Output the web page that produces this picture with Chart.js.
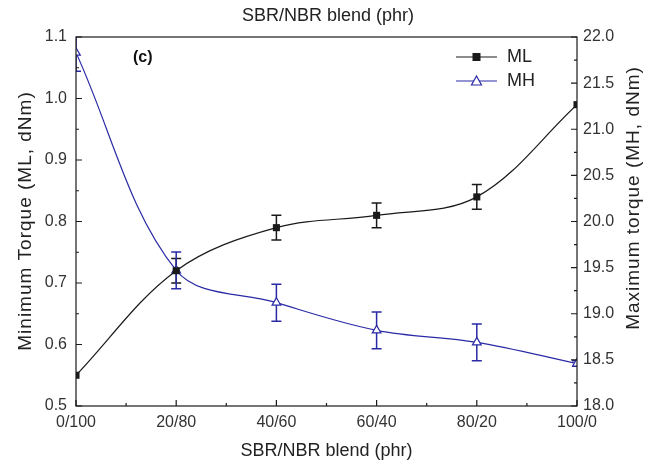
<!DOCTYPE html>
<html>
<head>
<meta charset="utf-8">
<script src="https://cdn.jsdelivr.net/npm/chart.js@4"></script>
<style>
  html, body { margin: 0; padding: 0; background: #fff; }
  #wrap { width: 656px; height: 466px; }
</style>
</head>
<body>
<div id="wrap"><canvas id="c"></canvas></div>
<script>
const categories = ['0/100', '20/80', '40/60', '60/40', '80/20', '100/0'];
const mlValues = [0.55, 0.72, 0.79, 0.81, 0.84, 0.99];
const mlErrors = [0, 0.02, 0.02, 0.02, 0.02, 0];
const mhValues = [21.83, 19.47, 19.12, 18.82, 18.69, 18.46];
const mhErrors = [0.2, 0.2, 0.2, 0.2, 0.2, 0.03];
const leftTicks = [0.5, 0.6, 0.7, 0.8, 0.9, 1.0, 1.1];
const rightTicks = [18.0, 18.5, 19.0, 19.5, 20.0, 20.5, 21.0, 21.5, 22.0];

const blue = '#2a2aa6';
const dark = '#1a1a1a';
const fontFam = '"Liberation Sans", Arial, sans-serif';

Chart.defaults.font.family = fontFam;

// inward major/minor ticks, frame, y titles, legend
const frameTicks = {
  id: 'frameTicks',
  afterDraw(chart) {
    const { ctx, chartArea: a, scales } = chart;
    ctx.save();
    ctx.strokeStyle = dark;
    ctx.lineWidth = 1.2;
    ctx.strokeRect(a.left, a.top, a.right - a.left, a.bottom - a.top);
    ctx.beginPath();
    const n = categories.length - 1;
    for (let i = 0; i <= 2 * n; i++) {
      const x = scales.x.getPixelForDecimal(i / (2 * n));
      ctx.moveTo(x, a.bottom);
      ctx.lineTo(x, a.bottom - (i % 2 ? 3 : 6));
    }
    for (let i = 0; i < leftTicks.length * 2 - 1; i++) {
      const y = scales.y.getPixelForValue(leftTicks[0] + i * 0.05);
      ctx.moveTo(a.left, y);
      ctx.lineTo(a.left + (i % 2 ? 3 : 6), y);
    }
    for (let i = 0; i < rightTicks.length * 2 - 1; i++) {
      const y = scales.y2.getPixelForValue(rightTicks[0] + i * 0.25);
      ctx.moveTo(a.right, y);
      ctx.lineTo(a.right - (i % 2 ? 3 : 6), y);
    }
    ctx.stroke();

    // y axis titles, both reading bottom to top
    ctx.fillStyle = '#222';
    ctx.font = '19px ' + fontFam;
    ctx.letterSpacing = '1px';
    ctx.textAlign = 'center';
    ctx.textBaseline = 'middle';
    [['Minimum Torque (ML, dNm)', 26, 221], ['Maximum torque (MH, dNm)', 634, 198]].forEach(([t, x, y]) => {
      ctx.save();
      ctx.translate(x, y);
      ctx.rotate(-Math.PI / 2);
      ctx.fillText(t, 0, 0);
      ctx.restore();
    });
    ctx.letterSpacing = '0px';
    ctx.textAlign = 'left';

    // panel label
    ctx.fillStyle = '#111';
    ctx.font = 'bold 16px ' + fontFam;
    ctx.fillText('(c)', 133, 58);

    // legend
    const items = [
      { label: 'ML', color: dark, y: 57, tri: false },
      { label: 'MH', color: blue, y: 81, tri: true }
    ];
    ctx.font = '18px ' + fontFam;
    items.forEach(it => {
      ctx.strokeStyle = it.color;
      ctx.lineWidth = 1.2;
      ctx.beginPath();
      ctx.moveTo(456, it.y);
      ctx.lineTo(497, it.y);
      ctx.stroke();
      if (it.tri) {
        ctx.fillStyle = '#fff';
        ctx.beginPath();
        ctx.moveTo(476.5, it.y - 5);
        ctx.lineTo(481.5, it.y + 4);
        ctx.lineTo(471.5, it.y + 4);
        ctx.closePath();
        ctx.fill();
        ctx.stroke();
      } else {
        ctx.fillStyle = dark;
        ctx.fillRect(472.5, it.y - 4, 8, 8);
      }
      ctx.fillStyle = '#222';
      ctx.fillText(it.label, 507, it.y);
    });
    ctx.restore();
  }
};

const errorBars = {
  id: 'errorBars',
  beforeDatasetsDraw(chart) {
    const { ctx, chartArea: a, scales } = chart;
    ctx.save();
    ctx.beginPath();
    ctx.rect(a.left, a.top, a.right - a.left, a.bottom - a.top);
    ctx.clip();
    const sets = [
      { vals: mlValues, errs: mlErrors, scale: scales.y, color: dark },
      { vals: mhValues, errs: mhErrors, scale: scales.y2, color: blue }
    ];
    sets.forEach(s => {
      ctx.strokeStyle = s.color;
      ctx.lineWidth = 1.5;
      s.vals.forEach((v, i) => {
        if (!s.errs[i]) return;
        const x = scales.x.getPixelForValue(i);
        const y1 = s.scale.getPixelForValue(v + s.errs[i]);
        const y2 = s.scale.getPixelForValue(v - s.errs[i]);
        ctx.beginPath();
        ctx.moveTo(x, y1); ctx.lineTo(x, y2);
        ctx.moveTo(x - 5, y1); ctx.lineTo(x + 5, y1);
        ctx.moveTo(x - 5, y2); ctx.lineTo(x + 5, y2);
        ctx.stroke();
      });
    });
    ctx.restore();
  }
};

new Chart(document.getElementById('c'), {
  type: 'line',
  data: {
    labels: categories,
    datasets: [
      {
        label: 'ML',
        data: mlValues,
        yAxisID: 'y',
        borderColor: dark,
        backgroundColor: dark,
        borderWidth: 1.2,
        pointStyle: 'rect',
        pointRadius: 5,
        pointBorderWidth: 0,
        tension: 0.35,
        clip: 0
      },
      {
        label: 'MH',
        data: mhValues,
        yAxisID: 'y2',
        borderColor: blue,
        backgroundColor: '#fff',
        borderWidth: 1.2,
        pointStyle: 'triangle',
        pointRadius: 5,
        pointBorderWidth: 1.2,
        tension: 0.35,
        clip: 0
      }
    ]
  },
  options: {
    responsive: true,
    maintainAspectRatio: false,
    animation: false,
    layout: { padding: 0 },
    plugins: {
      legend: { display: false },
      tooltip: { enabled: false },
      title: {
        display: true,
        text: 'SBR/NBR blend (phr)',
        color: '#222',
        font: { size: 18, weight: 'normal' },
        padding: { top: 5, bottom: 10.4 }
      }
    },
    scales: {
      x: {
        type: 'category',
        offset: false,
        grid: { display: false, drawTicks: false },
        border: { display: false },
        ticks: { color: '#333', font: { size: 16 }, padding: 7, maxRotation: 0 },
        title: { display: true, text: 'SBR/NBR blend (phr)', color: '#222', font: { size: 18 }, padding: { top: 0, bottom: 4 } },
        afterFit(s) { s.height = 60; }
      },
      y: {
        position: 'left',
        min: 0.5, max: 1.1,
        grid: { display: false, drawTicks: false },
        border: { display: false },
        ticks: { stepSize: 0.1, color: '#333', font: { size: 16 }, padding: 9, callback: v => v.toFixed(1) },
        afterFit(s) { s.width = 76; }
      },
      y2: {
        position: 'right',
        min: 18, max: 22,
        grid: { display: false, drawTicks: false },
        border: { display: false },
        ticks: { stepSize: 0.5, color: '#333', font: { size: 16 }, padding: 6, callback: v => v.toFixed(1) },
        afterFit(s) { s.width = 79; }
      }
    }
  },
  plugins: [errorBars, frameTicks]
});
</script>
</body>
</html>
